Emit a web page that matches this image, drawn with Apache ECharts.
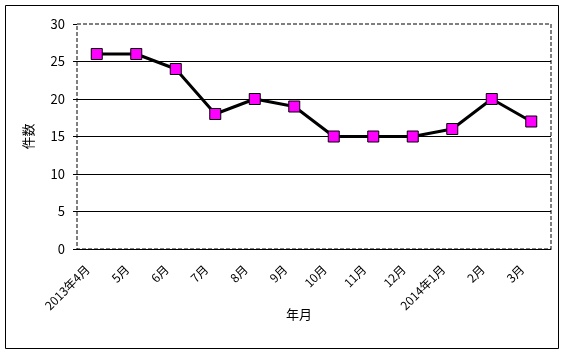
<!DOCTYPE html>
<html>
<head>
<meta charset="utf-8">
<script src="https://cdn.jsdelivr.net/npm/echarts@6/dist/echarts.min.js"></script>
<style>
html, body { margin: 0; padding: 0; background: #fff; }
#chart { width: 562px; height: 353px; }
</style>
</head>
<body>
<div id="chart"></div>
<script>
var months = ['2013年4月', '5月', '6月', '7月', '8月', '9月', '10月', '11月', '12月', '2014年1月', '2月', '3月'];
var counts = [26, 26, 24, 18, 20, 19, 15, 15, 15, 16, 20, 17];

var myChart = echarts.init(document.getElementById('chart'));
var fnt = "'Noto Sans CJK JP', sans-serif";

var option = {
	backgroundColor: '#fff',
	animation: false,
	graphic: [{
		type: 'rect',
		shape: { x: 5.5, y: 5.5, width: 553, height: 343 },
		style: { fill: 'none', stroke: '#000', lineWidth: 1 },
		z: 0
	}, {
		// x軸名
		type: 'text',
		x: 299, y: 314,
		style: {
			text: '年月', fill: '#000', fontSize: 13, fontFamily: fnt,
			align: 'center', verticalAlign: 'middle'
		}
	}],
	grid: {
		left: 77, right: 11, top: 24, bottom: 104,
		show: true,
		borderColor: '#000',
		borderWidth: 1,
		borderType: 'dashed'
	},
	xAxis: {
		type: 'category',
		data: months,
		boundaryGap: true,
		axisLine: { lineStyle: { color: '#000', width: 1 } },
		axisTick: { inside: true, length: 5, lineStyle: { color: '#000' } },
		axisLabel: {
			rotate: 45,
			interval: 0,
			margin: 9,
			padding: [0, 13, 0, 0],
			color: '#000',
			fontSize: 12,
			fontFamily: fnt
		}
	},
	yAxis: {
		type: 'value',
		min: 0,
		max: 30,
		interval: 5,
		name: '件数',
		nameLocation: 'middle',
		nameRotate: 90,
		nameGap: 42,
		nameTextStyle: { color: '#000', fontSize: 13, fontFamily: fnt },
		axisLine: { show: false },
		axisTick: { show: true, length: 4, lineStyle: { color: '#000' } },
		axisLabel: { color: '#000', fontSize: 13, fontFamily: fnt, margin: 12 },
		splitLine: {
			show: true,
			showMaxLine: false,
			lineStyle: { color: '#000', width: 1, type: 'solid' }
		}
	},
	series: {
		name: '件数',
		type: 'line',
		data: counts,
		symbol: 'rect',
		symbolSize: 11,
		lineStyle: { color: '#000', width: 3 },
		itemStyle: { color: '#FF00FF', borderColor: '#000', borderWidth: 1 }
	}
};

myChart.setOption(option);
</script>
</body>
</html>
